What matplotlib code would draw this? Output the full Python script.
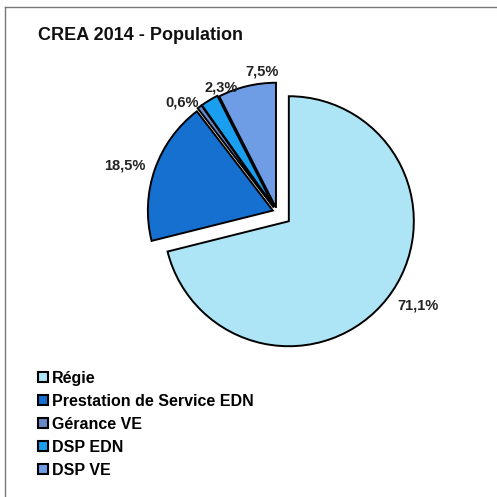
import numpy as np
import matplotlib.pyplot as plt
from matplotlib.patches import Patch

plt.rcParams['font.family'] = ['Liberation Sans', 'DejaVu Sans']

# data
labels = ["Régie", "Prestation de Service EDN", "Gérance VE", "DSP EDN", "DSP VE"]
values = [71.1, 18.5, 0.6, 2.3, 7.5]
pct_text = ["71,1%", "18,5%", "0,6%", "2,3%", "7,5%"]
colors = ["#aee5f6", "#1670d0", "#6a88c8", "#1a9ff0", "#6e9de6"]
explode = [0.12, 0.035, 0.045, 0.045, 0.035]

W = H = 497
fig = plt.figure(figsize=(W / 100, H / 100), dpi=100)
ax = fig.add_axes([0, 0, 1, 1])

# frame lines (left and top only visible)
ax.plot([5, 5], [H - 7, 0], color="#777777", lw=1.0)
ax.plot([5, W], [H - 7, H - 7], color="#777777", lw=1.0)

cx, cy, R = 277, H - 212, 125
wedges, _ = ax.pie(values, colors=colors, explode=[e * R for e in explode],
                   startangle=90, counterclock=False, center=(cx, cy), radius=R,
                   wedgeprops=dict(edgecolor="black", linewidth=1.4),
                   frame=True)
ax.set_xlim(0, W)
ax.set_ylim(0, H)
ax.set_aspect('equal')
ax.axis('off')

# percentage labels outside
lab_r = [1.35, 1.27, 1.16, 1.09, 1.13]
lab_da = [4.5, 2.3, 4.7, -7.0, -7.5]
for w, t, r, da in zip(wedges, pct_text, lab_r, lab_da):
    ang = np.deg2rad((w.theta1 + w.theta2) / 2 + da)
    ax.text(cx + R * r * np.cos(ang), cy + R * r * np.sin(ang), t,
            ha="center", va="center", fontsize=10.5, fontweight="bold",
            color="#222222")

ax.text(38, H - 35, "CREA 2014 - Population", fontsize=13, fontweight="bold",
        va="center", ha="left", color="#111111")

handles = [Patch(facecolor=c, edgecolor="black", linewidth=1.5) for c in colors]
ax.legend(handles, labels, loc="upper left", bbox_to_anchor=(38 / W, 1 - 371 / H),
          frameon=False, prop=dict(size=11.5, weight="bold"),
          handlelength=0.6, handleheight=0.6, handletextpad=0.25,
          labelspacing=0.5, borderaxespad=0, borderpad=0)

fig.savefig("out.png", dpi=100)
